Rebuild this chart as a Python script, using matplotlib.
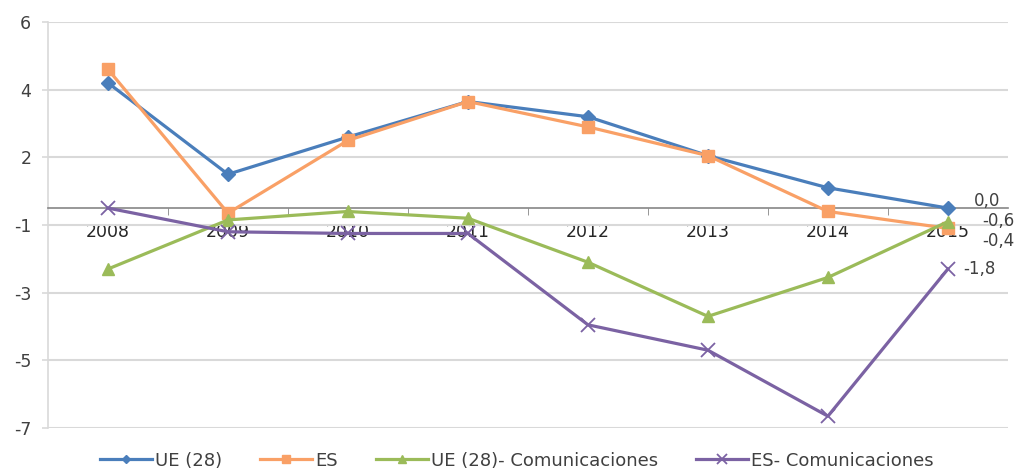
import numpy as np
import matplotlib
matplotlib.use("Agg")
import matplotlib.pyplot as plt
from matplotlib.ticker import FixedLocator, FuncFormatter

# --- data -------------------------------------------------------------
years = [2008, 2009, 2010, 2011, 2012, 2013, 2014, 2015]
ue28 = [3.7, 1.0, 2.1, 3.15, 2.7, 1.55, 0.6, 0.0]
es = [4.1, -0.15, 2.0, 3.15, 2.4, 1.55, -0.1, -0.6]
ue28_com = [-1.8, -0.35, -0.1, -0.3, -1.6, -3.2, -2.05, -0.4]
es_com = [0.0, -0.7, -0.75, -0.75, -3.45, -4.2, -6.15, -1.8]

y_ticks = [-6.5, -4.5, -2.5, -0.5, 1.5, 3.5, 5.5]

series = [
    ("UE (28)", ue28, "#4a7ebb", "D", 7, 0),
    ("ES", es, "#f9a066", "s", 9, 0),
    ("UE (28)- Comunicaciones", ue28_com, "#9bbb59", "^", 9, 0),
    ("ES- Comunicaciones", es_com, "#7b62a3", "x", 10, 1.3),
]

# value labels for the last year: (text offset in points)
end_offsets = [(19, 5), (25, 5), (25, -14), (11, 0)]

plt.rcParams["font.family"] = ["DejaVu Sans"]

fig = plt.figure(figsize=(10.19, 4.73), dpi=100)
ax = fig.add_axes([0.0471, 0.0951, 0.9420, 0.8584])

for (name, vals, col, mk, ms, mew), (dx, dy) in zip(series, end_offsets):
    ax.plot(years, vals, color=col, lw=2.3, marker=mk, ms=ms,
            mew=mew if mew else 1, mec=col, mfc=col, label=name,
            solid_joinstyle="round", zorder=3)
    ax.annotate(f"{vals[-1]:.1f}".replace(".", ","), (years[-1], vals[-1]),
                textcoords="offset points", xytext=(dx, dy),
                fontsize=12, color="#404040", va="center", ha="left",
                annotation_clip=False)

ax.set_xlim(2007.5, 2015.5)
ax.set_ylim(-6.5, 5.5)

# y axis: Excel-style "0" number format (half away from zero)
ax.yaxis.set_major_locator(FixedLocator(y_ticks))
ax.yaxis.set_major_formatter(
    FuncFormatter(lambda v, _: f"{int(np.sign(v) * np.floor(abs(v) + 0.5))}"))
ax.grid(True, axis="y", color="#d9d9d9", lw=1.5, zorder=0)
ax.tick_params(axis="y", length=4, color="#d9d9d9", width=1.2,
               labelsize=12.5, labelcolor="#404040", pad=8)

# category axis crossing at zero
ax.spines["bottom"].set_position(("data", 0))
ax.spines["bottom"].set_color("#868686")
ax.spines["bottom"].set_linewidth(1.2)
ax.spines["left"].set_color("#d9d9d9")
ax.spines["left"].set_linewidth(1.2)
for s in ("top", "right"):
    ax.spines[s].set_visible(False)
ax.set_xticks(years)
ax.set_xticks([y + 0.5 for y in years[:-1]], minor=True)
ax.tick_params(axis="x", which="major", length=0, labelsize=12.5,
               labelcolor="#262626", pad=11)
ax.tick_params(axis="x", which="minor", length=5, color="#868686",
               direction="out")
for lbl in ax.get_xticklabels():
    lbl.set_zorder(5)

fig.legend(loc="center left", bbox_to_anchor=(100 / 1019, 0.026), ncol=4,
           frameon=False, borderpad=0, borderaxespad=0,
           handlelength=2.9, columnspacing=2.1,
           handletextpad=0.15, markerscale=0.65,
           prop={"size": 13}, labelcolor="#404040")

fig.savefig("out.png", facecolor="white")
